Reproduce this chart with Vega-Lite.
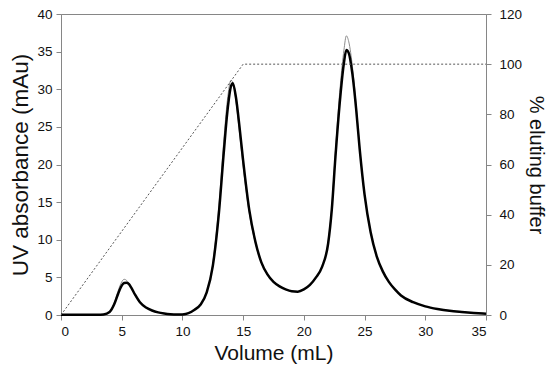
{
  "$schema": "https://vega.github.io/schema/vega-lite/v6.json",
  "autosize": "none",
  "width": 425,
  "height": 301,
  "padding": {"left": 61, "top": 14, "right": 64, "bottom": 58},
  "background": "white",
  "config": {
    "view": {"stroke": "#868686", "strokeWidth": 1},
    "axis": {
      "grid": false,
      "domainColor": "#868686",
      "tickColor": "#868686",
      "tickSize": 5,
      "labelColor": "#111",
      "titleColor": "#111",
      "labelFont": "Liberation Sans",
      "titleFont": "Liberation Sans",
      "labelFontSize": 13.5,
      "titleFontSize": 21,
      "titleFontWeight": "normal",
      "labelOverlap": false
    }
  },
  "datasets": {
    "uv": [
      {"v": 0, "thick": 0.02, "thin": 0.02},
      {"v": 1, "thick": 0.03, "thin": 0.03},
      {"v": 2, "thick": 0.03, "thin": 0.03},
      {"v": 3, "thick": 0.03, "thin": 0.03},
      {"v": 3.5, "thick": 0.08, "thin": 0.08},
      {"v": 4.0, "thick": 0.4, "thin": 0.45},
      {"v": 4.4, "thick": 1.5, "thin": 1.7},
      {"v": 4.7, "thick": 2.8, "thin": 3.2},
      {"v": 5.0, "thick": 3.9, "thin": 4.4},
      {"v": 5.2, "thick": 4.25, "thin": 4.75},
      {"v": 5.4, "thick": 4.3, "thin": 4.6},
      {"v": 5.6, "thick": 4.1, "thin": 4.2},
      {"v": 5.8, "thick": 3.6, "thin": 3.6},
      {"v": 6.1, "thick": 2.7, "thin": 2.6},
      {"v": 6.5, "thick": 1.7, "thin": 1.65},
      {"v": 7.0, "thick": 1.0, "thin": 1.0},
      {"v": 7.5, "thick": 0.6, "thin": 0.6},
      {"v": 8.0, "thick": 0.35, "thin": 0.35},
      {"v": 8.5, "thick": 0.2, "thin": 0.2},
      {"v": 9.0, "thick": 0.1, "thin": 0.1},
      {"v": 9.5, "thick": 0.05, "thin": 0.05},
      {"v": 10.0, "thick": 0.08, "thin": 0.08},
      {"v": 10.5, "thick": 0.25, "thin": 0.25},
      {"v": 11.0, "thick": 0.7, "thin": 0.7},
      {"v": 11.5, "thick": 1.4, "thin": 1.45},
      {"v": 12.0, "thick": 3.0, "thin": 3.1},
      {"v": 12.5, "thick": 6.5, "thin": 6.9},
      {"v": 13.0, "thick": 13.5, "thin": 14.5},
      {"v": 13.4, "thick": 21.5, "thin": 23.0},
      {"v": 13.7, "thick": 27.0, "thin": 28.5},
      {"v": 14.0, "thick": 30.4, "thin": 31.2},
      {"v": 14.15, "thick": 30.8, "thin": 30.9},
      {"v": 14.4, "thick": 29.0, "thin": 28.5},
      {"v": 14.7, "thick": 25.0, "thin": 24.2},
      {"v": 15.0, "thick": 20.5, "thin": 19.8},
      {"v": 15.5, "thick": 14.0, "thin": 13.6},
      {"v": 16.0, "thick": 9.8, "thin": 9.6},
      {"v": 16.5, "thick": 7.0, "thin": 6.9},
      {"v": 17.0, "thick": 5.4, "thin": 5.35},
      {"v": 17.5, "thick": 4.4, "thin": 4.4},
      {"v": 18.0, "thick": 3.8, "thin": 3.8},
      {"v": 18.5, "thick": 3.4, "thin": 3.4},
      {"v": 19.0, "thick": 3.15, "thin": 3.15},
      {"v": 19.5, "thick": 3.1, "thin": 3.1},
      {"v": 20.0, "thick": 3.4, "thin": 3.4},
      {"v": 20.5, "thick": 4.0, "thin": 4.0},
      {"v": 21.0, "thick": 5.0, "thin": 5.0},
      {"v": 21.5, "thick": 6.4, "thin": 6.4},
      {"v": 22.0, "thick": 9.5, "thin": 9.7},
      {"v": 22.3, "thick": 14.0, "thin": 14.4},
      {"v": 22.6, "thick": 21.0, "thin": 21.8},
      {"v": 23.0, "thick": 29.0, "thin": 30.5},
      {"v": 23.3, "thick": 33.5, "thin": 35.2},
      {"v": 23.5, "thick": 35.2, "thin": 37.1},
      {"v": 23.7, "thick": 34.8, "thin": 36.3},
      {"v": 24.0, "thick": 32.0, "thin": 33.0},
      {"v": 24.3, "thick": 27.5, "thin": 28.0},
      {"v": 24.6, "thick": 22.0, "thin": 22.2},
      {"v": 25.0, "thick": 16.0, "thin": 16.0},
      {"v": 25.5, "thick": 11.0, "thin": 11.0},
      {"v": 26.0, "thick": 7.8, "thin": 7.8},
      {"v": 26.5, "thick": 5.8, "thin": 5.8},
      {"v": 27.0, "thick": 4.4, "thin": 4.4},
      {"v": 27.5, "thick": 3.4, "thin": 3.4},
      {"v": 28.0, "thick": 2.6, "thin": 2.6},
      {"v": 29.0, "thick": 1.7, "thin": 1.7},
      {"v": 30.0, "thick": 1.15, "thin": 1.15},
      {"v": 31.0, "thick": 0.8, "thin": 0.8},
      {"v": 32.0, "thick": 0.55, "thin": 0.55},
      {"v": 33.0, "thick": 0.4, "thin": 0.4},
      {"v": 34.0, "thick": 0.28, "thin": 0.28},
      {"v": 35.0, "thick": 0.18, "thin": 0.18}
    ],
    "grad": [
      {"v": 0, "pct": 0},
      {"v": 15, "pct": 100},
      {"v": 35, "pct": 100}
    ]
  },
  "layer": [
    {
      "data": {"name": "uv"},
      "layer": [
        {
          "mark": {"type": "line", "color": "#8c8c8c", "strokeWidth": 1, "interpolate": "monotone"},
          "encoding": {
            "x": {"field": "v", "type": "quantitative", "scale": {"domain": [0, 35], "nice": false}, "axis": {"title": "Volume (mL)", "values": [0,5,10,15,20,25,30,35], "labelOverlap": false, "labelPadding": 4, "titlePadding": 5}},
            "y": {"field": "thin", "type": "quantitative", "scale": {"domain": [0, 40], "nice": false}, "axis": {"title": "UV absorbance (mAu)", "titleFontSize": 22.5, "values": [0,5,10,15,20,25,30,35,40], "labelOverlap": false, "labelPadding": 4, "titlePadding": 4}}
          }
        },
        {
          "mark": {"type": "line", "color": "#000000", "strokeWidth": 2.5, "interpolate": "monotone"},
          "encoding": {
            "x": {"field": "v", "type": "quantitative", "scale": {"domain": [0, 35], "nice": false}, "axis": {"title": "Volume (mL)", "values": [0,5,10,15,20,25,30,35], "labelOverlap": false, "labelPadding": 4, "titlePadding": 5}},
            "y": {"field": "thick", "type": "quantitative", "scale": {"domain": [0, 40], "nice": false}, "axis": {"title": "UV absorbance (mAu)", "titleFontSize": 22.5, "values": [0,5,10,15,20,25,30,35,40], "labelOverlap": false, "labelPadding": 4, "titlePadding": 4}}
          }
        }
      ]
    },
    {
      "data": {"name": "grad"},
      "mark": {"type": "line", "color": "#555555", "strokeWidth": 1, "strokeDash": [2, 2]},
      "encoding": {
        "x": {"field": "v", "type": "quantitative", "scale": {"domain": [0, 35], "nice": false}, "axis": {"title": "Volume (mL)", "values": [0,5,10,15,20,25,30,35], "labelOverlap": false, "labelPadding": 4, "titlePadding": 5}},
        "y": {"field": "pct", "type": "quantitative", "scale": {"domain": [0, 120], "nice": false}, "axis": {"orient": "right", "title": "% eluting buffer", "titleFontSize": 20, "values": [0,20,40,60,80,100,120], "labelOverlap": false, "labelPadding": 8, "titlePadding": 4}}
      }
    }
  ],
  "resolve": {"scale": {"y": "independent"}}
}
